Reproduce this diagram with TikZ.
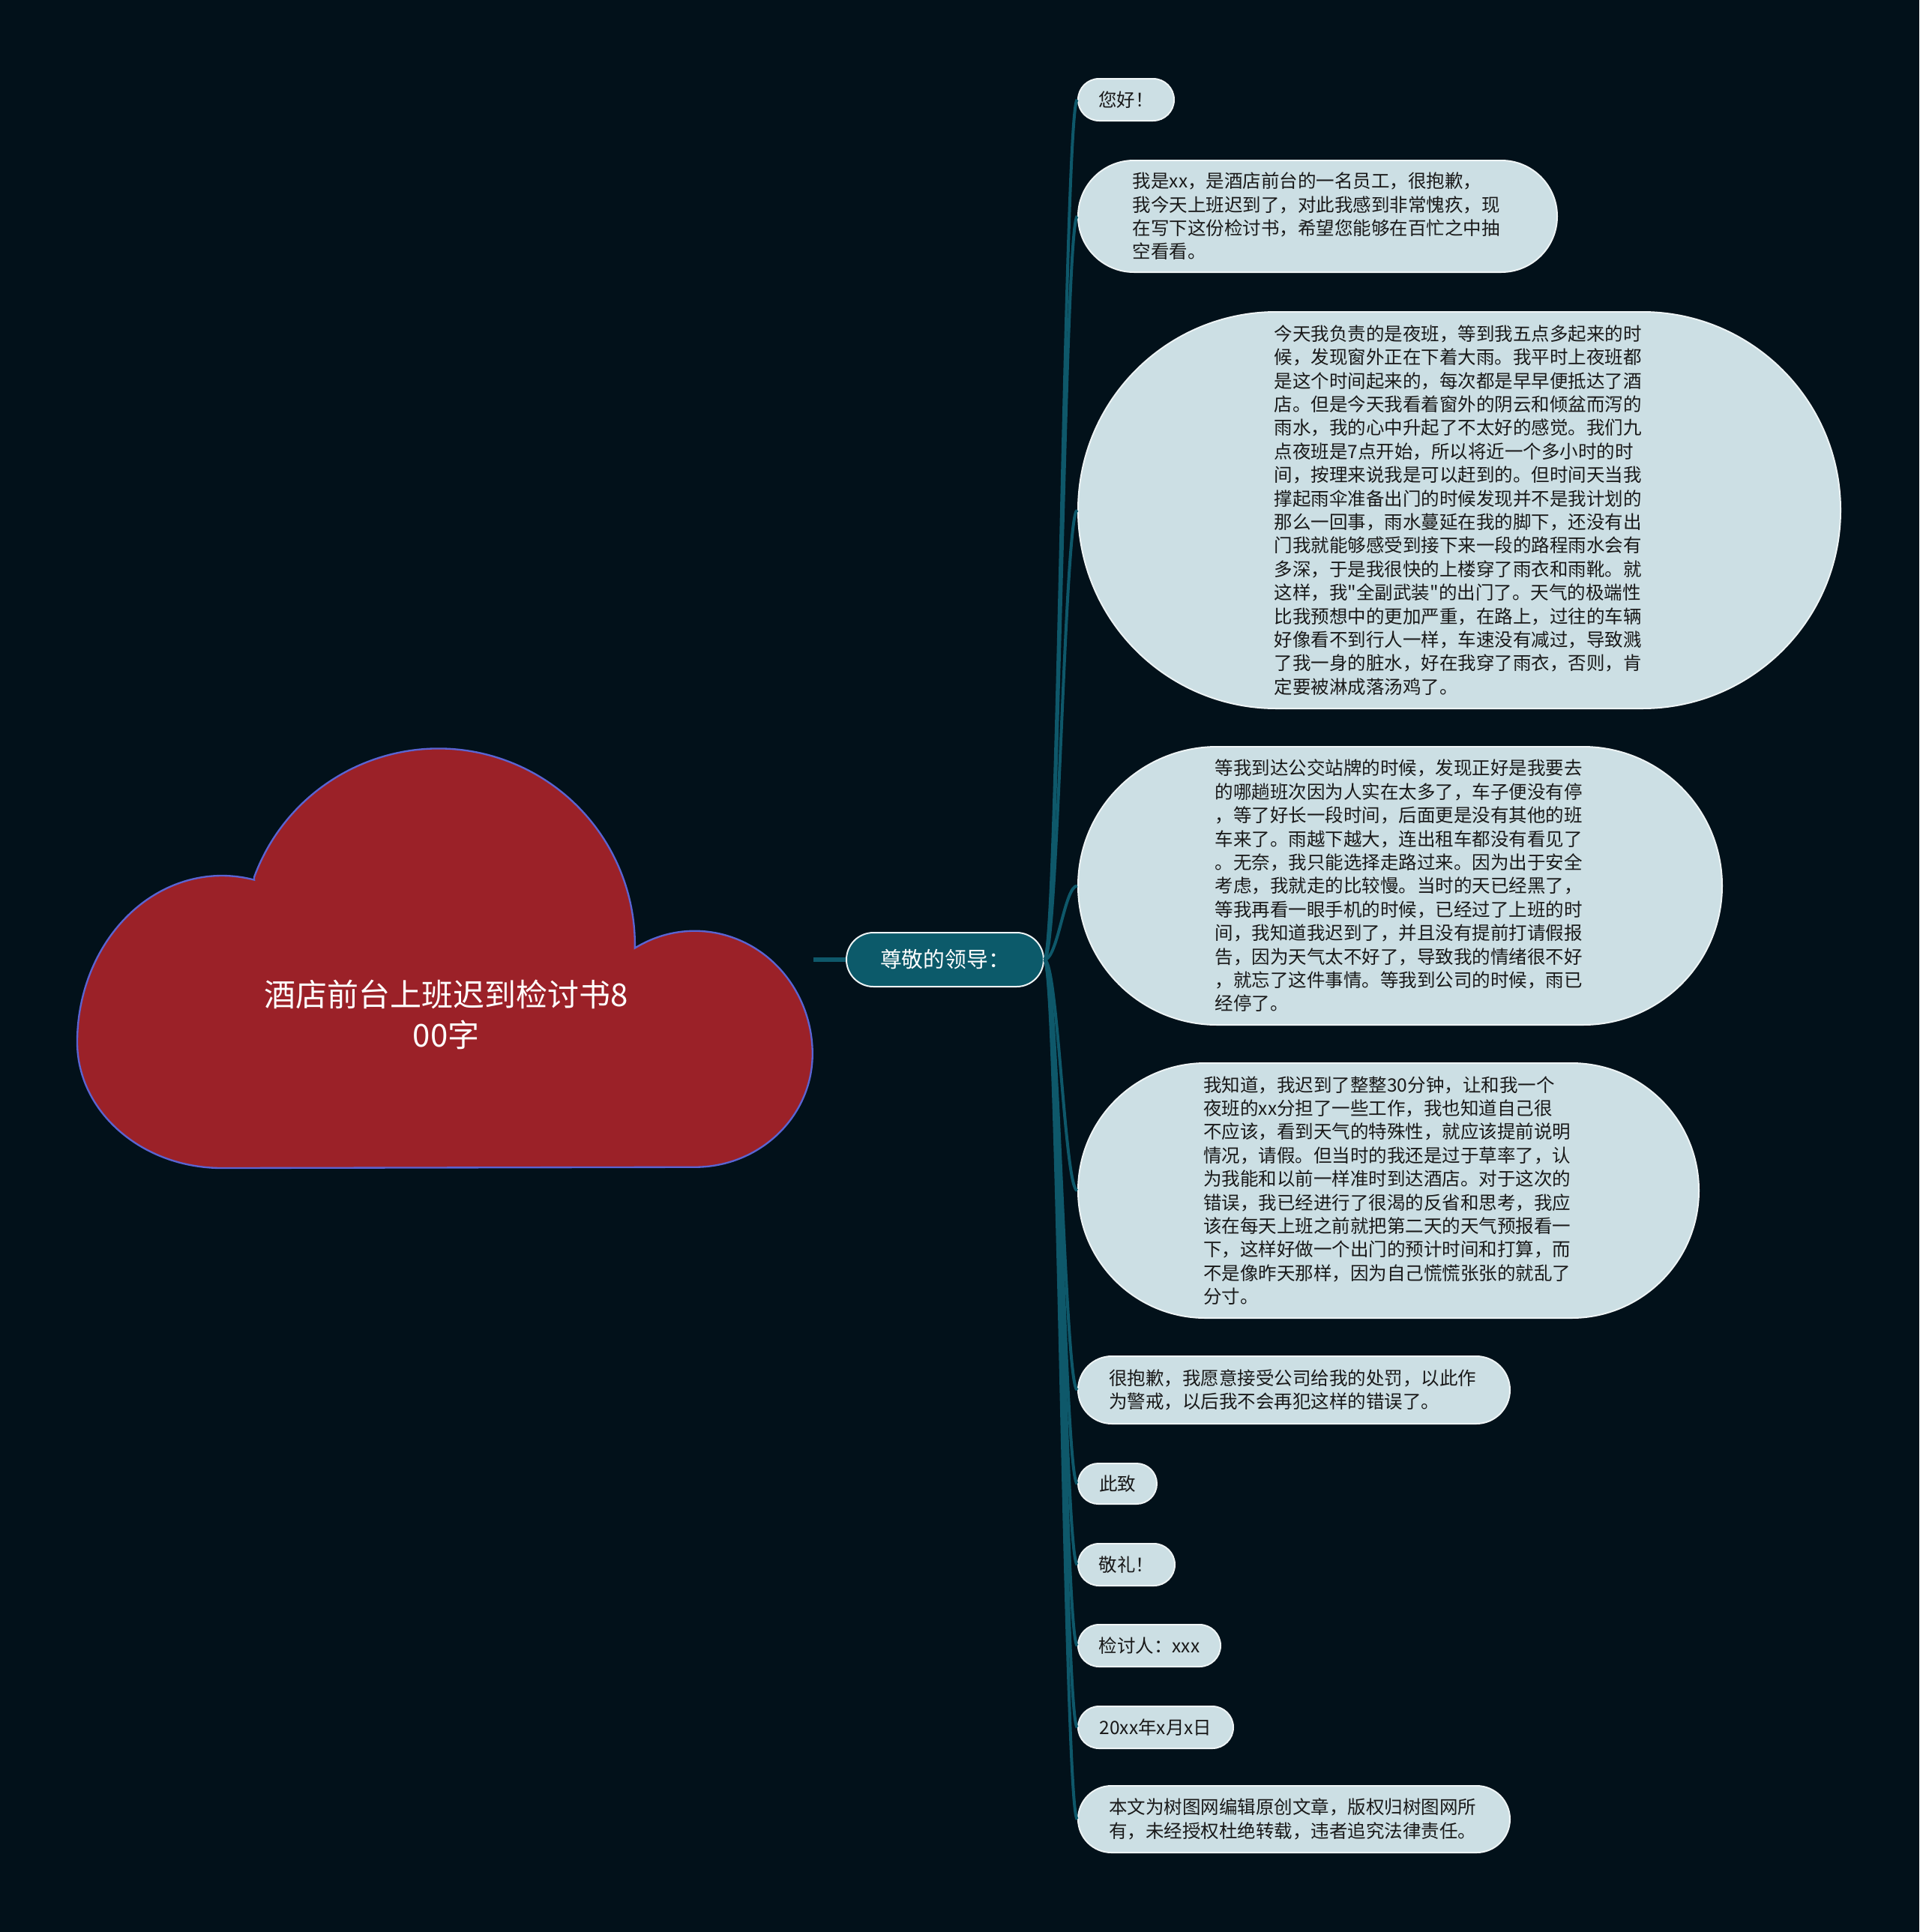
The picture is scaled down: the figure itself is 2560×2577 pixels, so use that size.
\documentclass[tikz,border=0pt]{standalone}
\usepackage{fontspec}
\newfontfamily\cjk{Noto Sans CJK SC}
\definecolor{bg}{RGB}{2,17,26}
\definecolor{teal1}{RGB}{14,88,106}
\definecolor{mainfill}{RGB}{12,90,106}
\definecolor{leaffill}{RGB}{204,223,228}
\definecolor{leafline}{RGB}{238,244,245}
\definecolor{leaftext}{RGB}{25,25,25}
\definecolor{cloudfill}{RGB}{155,33,40}
\definecolor{cloudline}{RGB}{90,100,210}
\tikzset{
  leaf/.style={draw=leafline, line width=0.6pt, fill=leaffill, text=leaftext,
    font=\cjk\fontsize{7.35pt}{9.42pt}\selectfont, inner sep=0pt, align=center},
  leafpara/.style={leaf, text width=148pt, align=left},
  link/.style={draw=teal1, line width=1.2pt},
}
\begin{document}
\begin{tikzpicture}[x=0.3pt,y=-0.3pt]
\fill[bg] (0,0) rectangle (2560,2577);
\useasboundingbox (0,0) rectangle (2560,2577);

% cloud
\draw[fill=cloudfill, draw=cloudline, line width=0.7pt]
  (339,1170) arc[start angle=200.2, end angle=360.9, radius=262]
  arc[start angle=239.4, end angle=360, x radius=157, y radius=164]
  arc[start angle=0, end angle=90, x radius=157, y radius=151]
  -- (296,1558)
  arc[start angle=90, end angle=180, x radius=193, y radius=168]
  arc[start angle=180, end angle=282.9, x radius=193, y radius=222]
  -- cycle;
\node[font=\cjk\fontsize{12.6pt}{16.2pt}\selectfont, text=white, align=center] (title) at (595,1353) {酒店前台上班迟到检讨书8\\00字};
\coordinate (cloudR) at (1085,1280);

% main node
\node[draw=leafline, line width=0.6pt, fill=mainfill, text=white, rounded corners=10.79pt,
  minimum width=78.9pt, minimum height=21.6pt, inner sep=0pt,
  font=\cjk\fontsize{8.64pt}{10pt}\selectfont] (main) at (1260.5,1280) {尊敬的领导：};

% leaves
\node[leaf, minimum width=38.4pt, minimum height=16.8pt, rounded corners=8.39pt] (c1) at (1502,133) {您好！};
\node[leafpara, minimum width=191.7pt, minimum height=44.7pt, rounded corners=22.34pt] (c2) at (1757.5,288.5) {我是xx，是酒店前台的一名员工，很抱歉，\\我今天上班迟到了，对此我感到非常愧疚，现\\在写下这份检讨书，希望您能够在百忙之中抽\\空看看。};
\node[leafpara, minimum width=305.1pt, minimum height=158.7pt, rounded corners=79.34pt] (c3) at (1946.5,680.5) {今天我负责的是夜班，等到我五点多起来的时\\候，发现窗外正在下着大雨。我平时上夜班都\\是这个时间起来的，每次都是早早便抵达了酒\\店。但是今天我看着窗外的阴云和倾盆而泻的\\雨水，我的心中升起了不太好的感觉。我们九\\点夜班是7点开始，所以将近一个多小时的时\\间，按理来说我是可以赶到的。但时间天当我\\撑起雨伞准备出门的时候发现并不是我计划的\\那么一回事，雨水蔓延在我的脚下，还没有出\\门我就能够感受到接下来一段的路程雨水会有\\多深，于是我很快的上楼穿了雨衣和雨靴。就\\这样，我"全副武装"的出门了。天气的极端性\\比我预想中的更加严重，在路上，过往的车辆\\好像看不到行人一样，车速没有减过，导致溅\\了我一身的脏水，好在我穿了雨衣，否则，肯\\定要被淋成落汤鸡了。};
\node[leafpara, minimum width=257.7pt, minimum height=111.3pt, rounded corners=55.64pt] (c4) at (1867.5,1181.5) {等我到达公交站牌的时候，发现正好是我要去\\的哪趟班次因为人实在太多了，车子便没有停\\，等了好长一段时间，后面更是没有其他的班\\车来了。雨越下越大，连出租车都没有看见了\\。无奈，我只能选择走路过来。因为出于安全\\考虑，我就走的比较慢。当时的天已经黑了，\\等我再看一眼手机的时候，已经过了上班的时\\间，我知道我迟到了，并且没有提前打请假报\\告，因为天气太不好了，导致我的情绪很不好\\，就忘了这件事情。等我到公司的时候，雨已\\经停了。};
\node[leafpara, minimum width=248.4pt, minimum height=102pt, rounded corners=50.99pt] (c5) at (1852,1588) {我知道，我迟到了整整30分钟，让和我一个\\夜班的xx分担了一些工作，我也知道自己很\\不应该，看到天气的特殊性，就应该提前说明\\情况，请假。但当时的我还是过于草率了，认\\为我能和以前一样准时到达酒店。对于这次的\\错误，我已经进行了很渴的反省和思考，我应\\该在每天上班之前就把第二天的天气预报看一\\下，这样好做一个出门的预计时间和打算，而\\不是像昨天那样，因为自己慌慌张张的就乱了\\分寸。};
\node[leafpara, minimum width=172.8pt, minimum height=27pt, rounded corners=13.49pt] (c6) at (1726,1854) {很抱歉，我愿意接受公司给我的处罚，以此作\\为警戒，以后我不会再犯这样的错误了。};
\node[leaf, minimum width=31.5pt, minimum height=16.2pt, rounded corners=8.09pt] (c7) at (1490.5,1979) {此致};
\node[leaf, minimum width=38.7pt, minimum height=16.8pt, rounded corners=8.39pt] (c8) at (1502.5,2087) {敬礼！};
\node[leaf, minimum width=57pt, minimum height=16.8pt, rounded corners=8.39pt] (c9) at (1533,2195) {检讨人：xxx};
\node[leaf, minimum width=62.1pt, minimum height=16.8pt, rounded corners=8.39pt] (c10) at (1541.5,2304) {20xx年x月x日};
\node[leafpara, minimum width=172.8pt, minimum height=26.7pt, rounded corners=13.34pt] (c11) at (1726,2426.5) {本文为树图网编辑原创文章，版权归树图网所\\有，未经授权杜绝转载，违者追究法律责任。};

% connectors
\draw[link, line width=1.8pt] (cloudR) -- (main.west);
\foreach \c in {c1,c2,c3,c4,c5,c6,c7,c8,c9,c10,c11}{
  \draw[link] (main.east) .. controls +(18,0) and +(-17,0) .. (\c.west);
}
\end{tikzpicture}
\end{document}
